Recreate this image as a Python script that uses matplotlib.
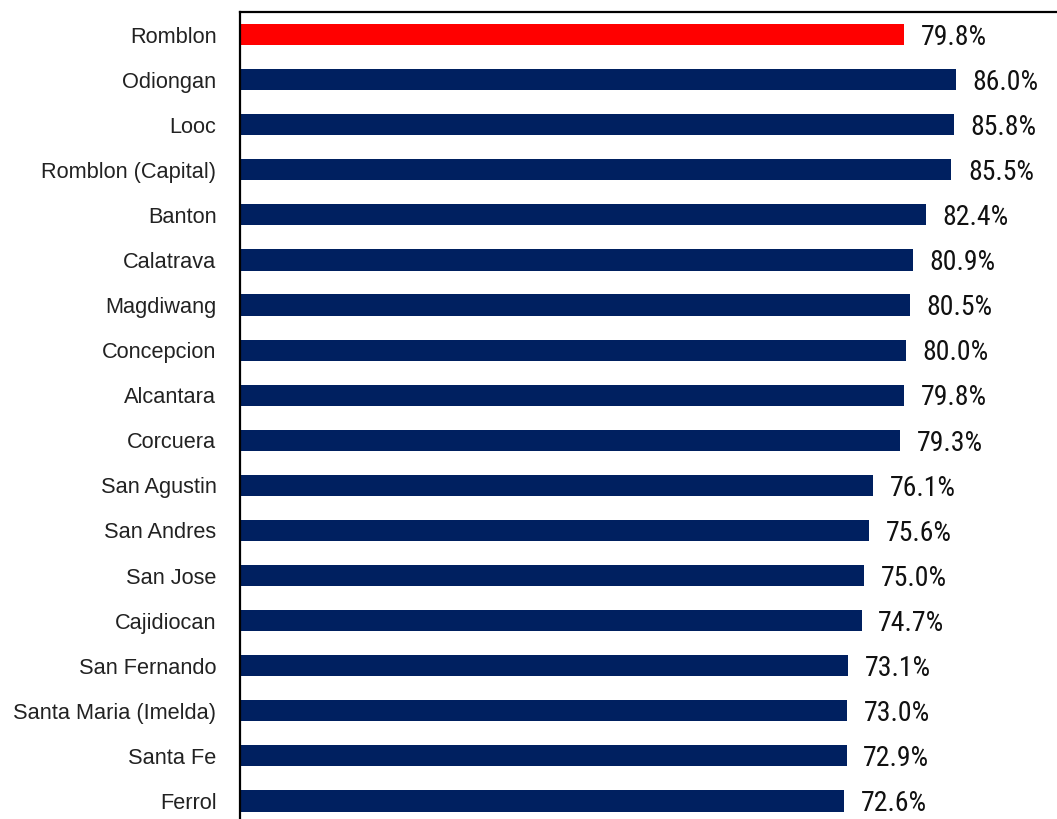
import matplotlib
matplotlib.use("Agg")
import matplotlib.pyplot as plt
from matplotlib import font_manager

categories = ["Romblon", "Odiongan", "Looc", "Romblon (Capital)", "Banton", "Calatrava",
              "Magdiwang", "Concepcion", "Alcantara", "Corcuera", "San Agustin", "San Andres",
              "San Jose", "Cajidiocan", "San Fernando", "Santa Maria (Imelda)", "Santa Fe", "Ferrol"]
values = [79.8, 86.0, 85.8, 85.5, 82.4, 80.9, 80.5, 80.0, 79.8, 79.3, 76.1, 75.6,
          75.0, 74.7, 73.1, 73.0, 72.9, 72.6]
value_labels = ["79.8%", "86.0%", "85.8%", "85.5%", "82.4%", "80.9%", "80.5%", "80.0%", "79.8%",
                "79.3%", "76.1%", "75.6%", "75.0%", "74.7%", "73.1%", "73.0%", "72.9%", "72.6%"]
highlight = "Romblon"

names = {f.name for f in font_manager.fontManager.ttflist}
if "Roboto Condensed" in names:
    num_font, num_size = "Roboto Condensed", 20
elif "Roboto" in names:
    num_font, num_size = "Roboto", 17.5
else:
    num_font, num_size = "Liberation Sans", 16.5
lab_font = "Liberation Sans" if "Liberation Sans" in names else "DejaVu Sans"

W, H = 1057, 819
fig = plt.figure(figsize=(W / 100, H / 100), dpi=100)
left_px, top_px, bottom_px, width_px = 240, 12, 823.5, 832
ax = fig.add_axes([left_px / W, (H - bottom_px) / H, width_px / W, (bottom_px - top_px) / H])

y = list(range(len(categories)))
colors = ["#FF0000" if c == highlight else "#002060" for c in categories]
bars = ax.barh(y, values, height=0.47, color=colors)
ax.set_xlim(0, 100)
ax.set_ylim(len(categories) - 0.5, -0.5)

for b, lab in zip(bars, value_labels):
    ax.annotate(lab, (b.get_width(), b.get_y() + b.get_height() / 2),
                xytext=(12, -2), textcoords="offset points", va="center", ha="left",
                fontsize=num_size, family=num_font, color="#111111")

ax.set_yticks(y)
ax.set_yticklabels(categories, fontsize=15.7, family=lab_font, color="#222222")
ax.tick_params(axis="y", length=0, pad=17)
ax.set_xticks([])
for s in ["right", "bottom"]:
    ax.spines[s].set_visible(False)
for s in ["top", "left"]:
    ax.spines[s].set_linewidth(1.6)
    ax.spines[s].set_color("black")

fig.savefig("out.png", dpi=100)
